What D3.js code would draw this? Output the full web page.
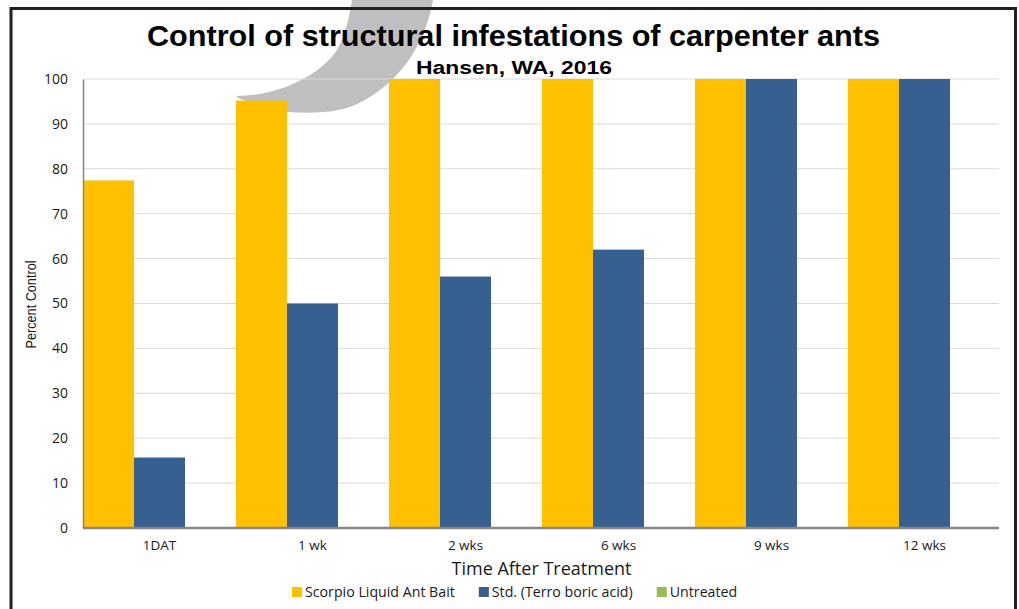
<!DOCTYPE html>
<html>
<head>
<meta charset="utf-8">
<script src="https://cdn.jsdelivr.net/npm/d3@7"></script>
<style>
  body { margin: 0; background: #fff; }
  svg { display: block; }
</style>
</head>
<body>
<div id="chart"></div>
<script>
const categories = ['1DAT', '1 wk', '2 wks', '6 wks', '9 wks', '12 wks'];
const seriesNames = ['Scorpio Liquid Ant Bait', 'Std. (Terro boric acid)', 'Untreated'];
const scorpio = [77.4, 95.2, 100, 100, 100, 100];
const terro = [15.7, 50, 56, 62, 100, 100];
const untreated = [0, 0, 0, 0, 0, 0];
const yTicks = [0, 10, 20, 30, 40, 50, 60, 70, 80, 90, 100];
const colors = ['#FFC000', '#36608F', '#9BBB59'];

const W = 1019, H = 609;
const margin = {top: 79, right: 18, bottom: 81, left: 83};
const width = W - margin.left - margin.right;
const height = H - margin.top - margin.bottom;

const seriesValues = [scorpio, terro, untreated];

const svg = d3.select('#chart').append('svg')
  .attr('width', W)
  .attr('height', H);

// grey watermark swoosh behind the chart
svg.append('path')
  .attr('d', 'M352,0 L433,0 C428,30 410,75 365,100 C345,112 320,114 287,112 L240,99 L236,96 C280,96 320,75 337,50 C345,35 350,15 352,0 Z')
  .attr('fill', '#bfbfc1');

// outer frame
svg.append('path')
  .attr('d', 'M11,612 L11,8.5 L1015.5,8.5 L1015.5,612')
  .attr('fill', 'none')
  .attr('stroke', '#231f20')
  .attr('stroke-width', 3);

const g = svg.append('g')
  .attr('transform', 'translate(' + margin.left + ',' + margin.top + ')');

const x = d3.scaleBand()
  .domain(categories)
  .range([0, width])
  .paddingInner(0)
  .paddingOuter(0);

const xs = d3.scaleBand()
  .domain(seriesNames)
  .range([0, x.bandwidth()])
  .padding(0);

const y = d3.scaleLinear()
  .domain([0, 100])
  .range([height, 0]);

// gridlines
g.append('g')
  .selectAll('line')
  .data(yTicks.filter(d => d > 0))
  .join('line')
  .attr('x1', 0)
  .attr('x2', width - 2)
  .attr('y1', d => y(d))
  .attr('y2', d => y(d))
  .attr('stroke', '#d9d9d9')
  .attr('stroke-width', 1);

// bars
const groups = g.selectAll('.grp')
  .data(categories)
  .join('g')
  .attr('class', 'grp')
  .attr('transform', d => 'translate(' + x(d) + ',0)');

groups.selectAll('rect')
  .data((d, i) => seriesNames.map((s, j) => ({s: s, v: seriesValues[j][i], j: j})))
  .join('rect')
  .attr('x', d => xs(d.s))
  .attr('y', d => y(d.v))
  .attr('width', xs.bandwidth())
  .attr('height', d => height - y(d.v))
  .attr('fill', d => colors[d.j]);

// y axis
const yAxis = g.append('g')
  .call(d3.axisLeft(y).tickValues(yTicks).tickSize(0).tickPadding(15))
  .style('font-family', '"Open Sans", sans-serif')
  .style('font-size', '14px');
yAxis.select('.domain').attr('stroke', '#868686').attr('stroke-width', 1.5);
yAxis.selectAll('text').attr('fill', '#1a1a1a');

// x axis
const xAxis = g.append('g')
  .attr('transform', 'translate(0,' + height + ')')
  .call(d3.axisBottom(x).tickSize(0).tickPadding(12))
  .style('font-family', '"Open Sans", sans-serif')
  .style('font-size', '13.5px');
xAxis.select('.domain').attr('stroke', '#868686').attr('stroke-width', 2.5)
  .attr('d', 'M0,0H' + (width - 2));
xAxis.selectAll('text').attr('fill', '#1a1a1a');

// titles
svg.append('text')
  .attr('x', 513.5)
  .attr('y', 46)
  .attr('text-anchor', 'middle')
  .attr('textLength', 733)
  .attr('lengthAdjust', 'spacingAndGlyphs')
  .style('font-family', '"Liberation Sans", Arial, sans-serif')
  .style('font-weight', 'bold')
  .style('font-size', '30px')
  .attr('fill', '#000')
  .text('Control of structural infestations of carpenter ants');

svg.append('text')
  .attr('x', 514)
  .attr('y', 74)
  .attr('text-anchor', 'middle')
  .attr('textLength', 196)
  .attr('lengthAdjust', 'spacingAndGlyphs')
  .style('font-family', '"Liberation Sans", Arial, sans-serif')
  .style('font-weight', 'bold')
  .style('font-size', '18px')
  .attr('fill', '#000')
  .text('Hansen, WA, 2016');

svg.append('text')
  .attr('transform', 'translate(36,' + (margin.top + y(50) + 1) + ') rotate(-90)')
  .attr('text-anchor', 'middle')
  .attr('textLength', 88)
  .attr('lengthAdjust', 'spacingAndGlyphs')
  .style('font-family', '"Liberation Sans Narrow", "Liberation Sans", sans-serif')
  .style('font-size', '14px')
  .attr('fill', '#1a1a1a')
  .text('Percent Control');

svg.append('text')
  .attr('x', 541.5)
  .attr('y', 575)
  .attr('text-anchor', 'middle')
  .style('font-family', '"Open Sans", sans-serif')
  .style('font-size', '18px')
  .attr('fill', '#1a1a1a')
  .text('Time After Treatment');

// legend
const legend = svg.append('g').attr('transform', 'translate(0,597)');
let lx = 292;
seriesNames.forEach((name, i) => {
  legend.append('rect')
    .attr('x', lx)
    .attr('y', -10)
    .attr('width', 10)
    .attr('height', 10)
    .attr('fill', colors[i]);
  const t = legend.append('text')
    .attr('x', lx + 13)
    .attr('y', 0)
    .style('font-family', '"Open Sans", sans-serif')
    .style('font-size', '14.2px')
    .attr('fill', '#1a1a1a')
    .text(name);
  lx += 13 + t.node().getComputedTextLength() + 24;
});
</script>
</body>
</html>
